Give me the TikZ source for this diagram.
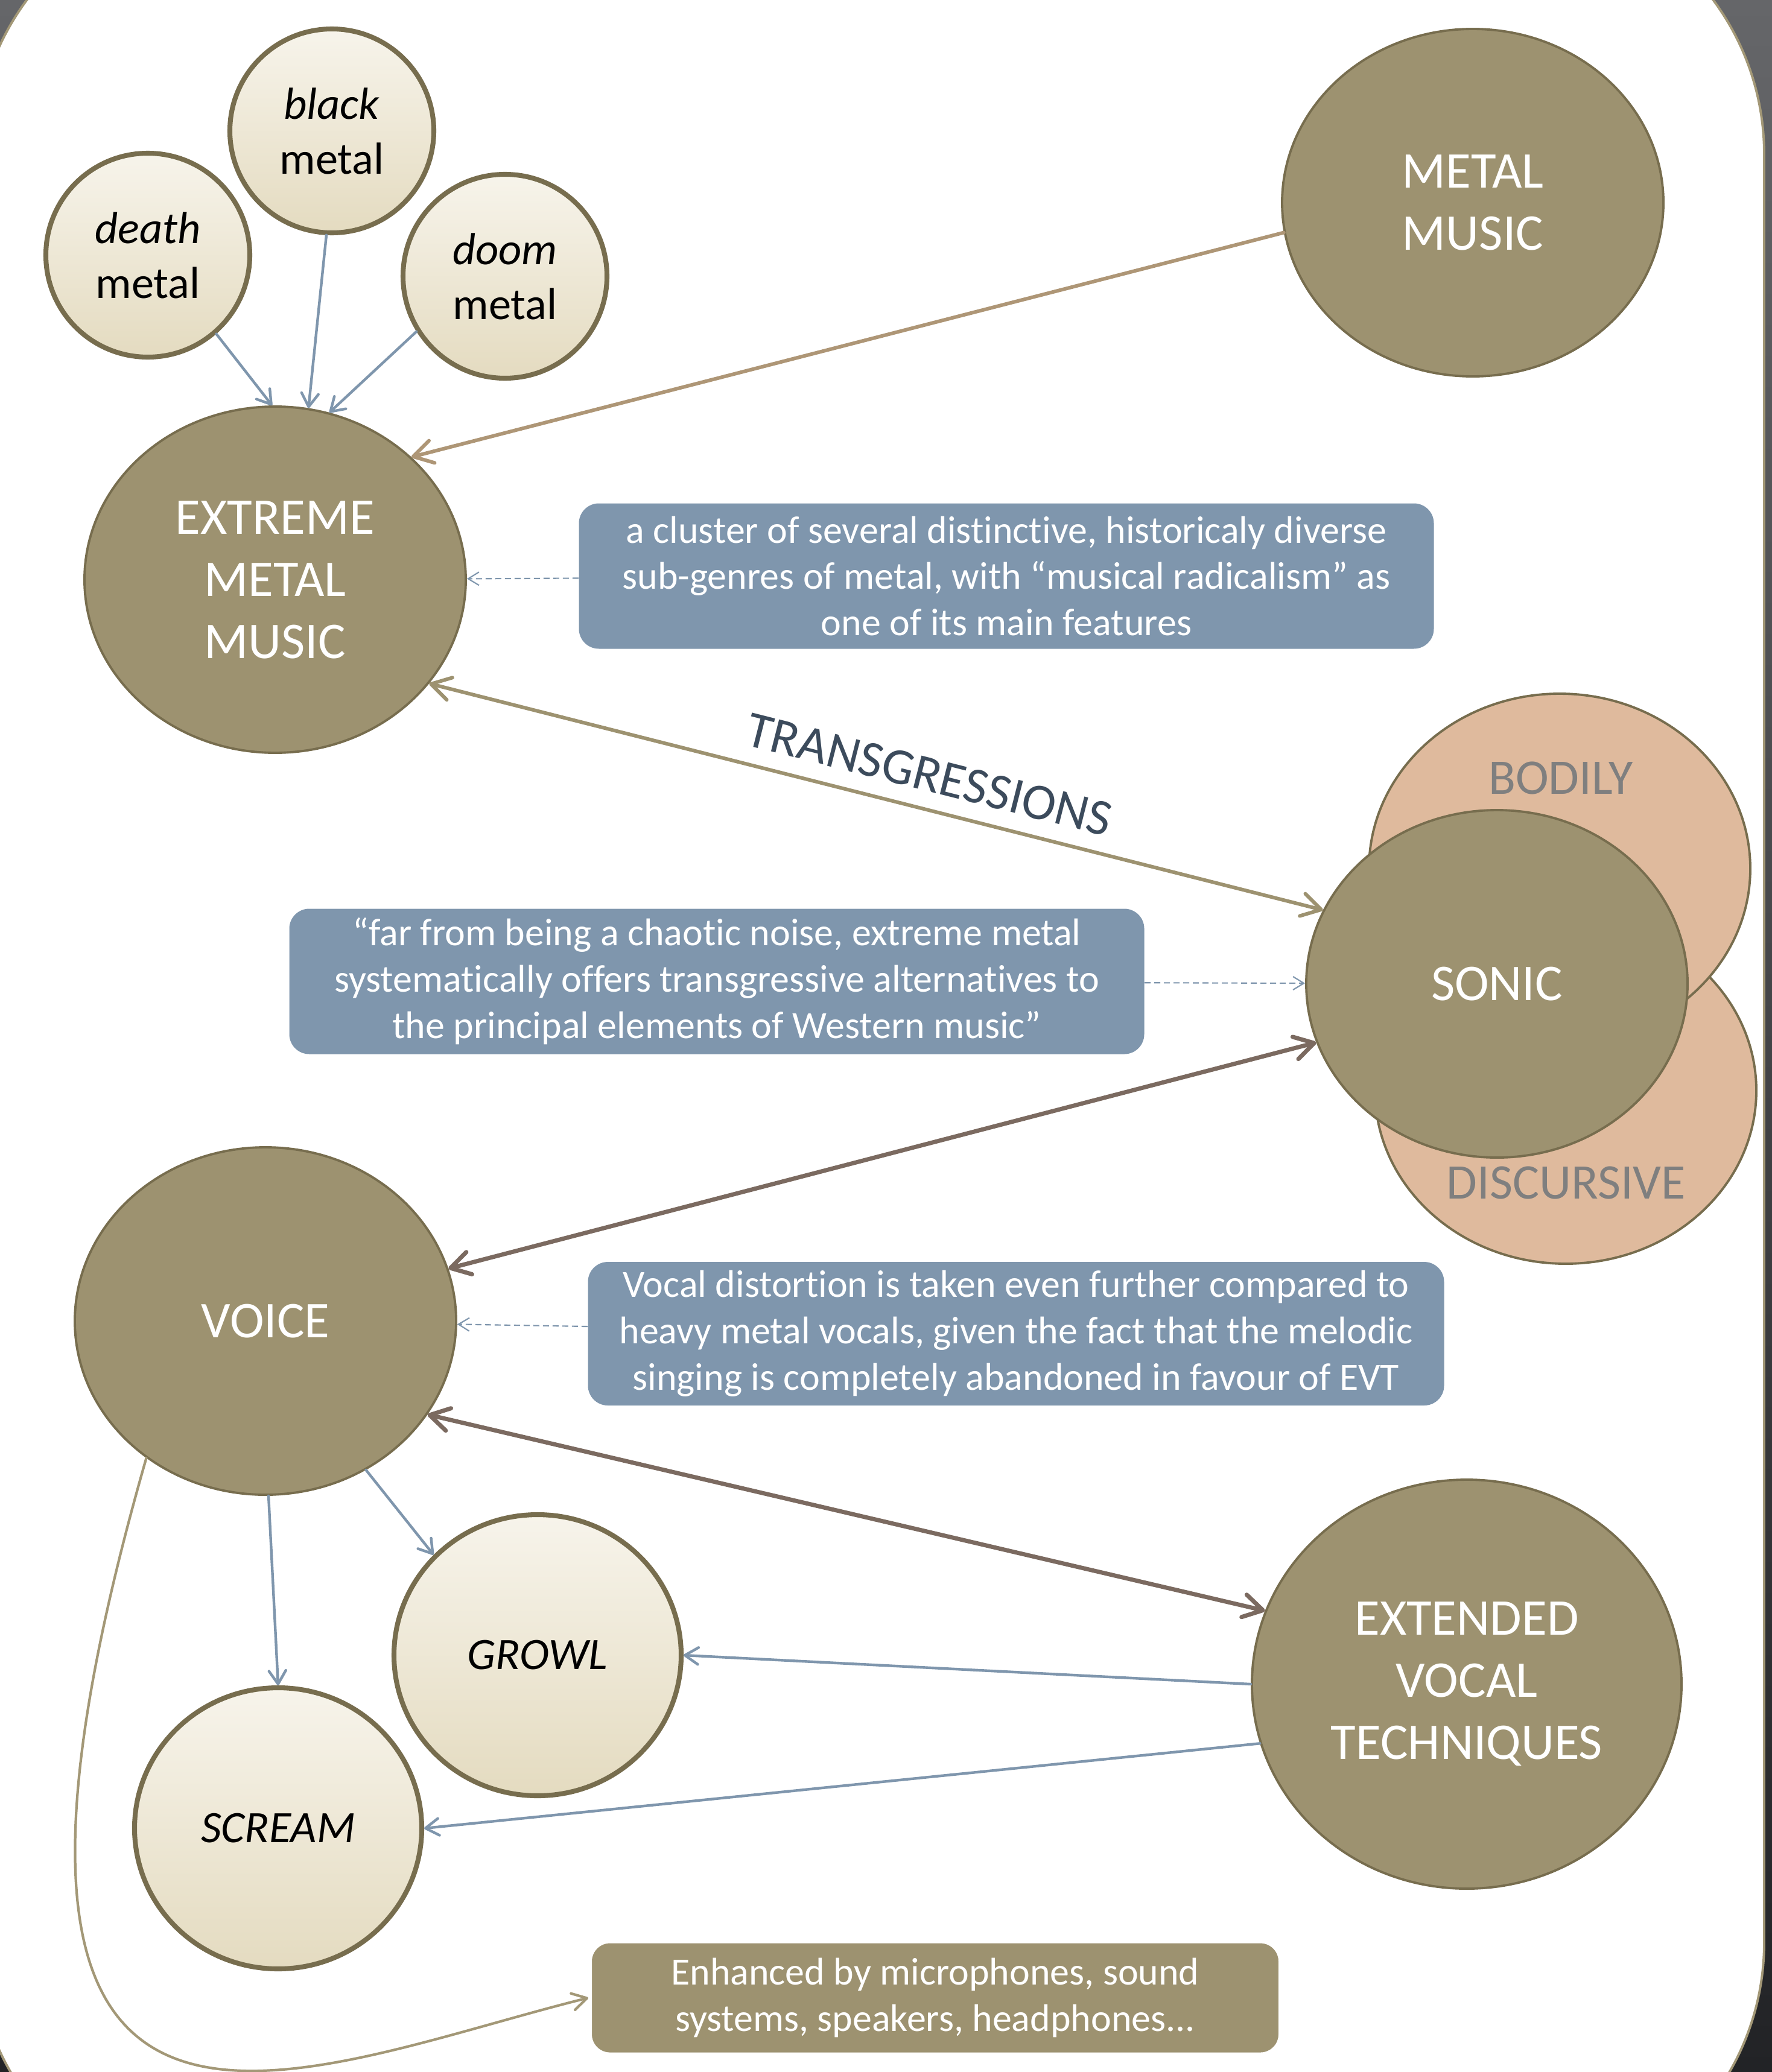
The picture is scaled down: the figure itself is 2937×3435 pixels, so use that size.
\documentclass[tikz,border=0pt]{standalone}
\usepackage{fontspec}
\setmainfont{Carlito}[Ligatures=NoCommon]
\usetikzlibrary{arrows.meta,shapes.geometric}

\definecolor{khaki}{HTML}{9D9270}
\definecolor{khakiline}{HTML}{776D4E}
\definecolor{creamtop}{HTML}{F7F4EB}
\definecolor{creambot}{HTML}{E4DBC0}
\definecolor{salmon}{HTML}{DFBA9D}
\definecolor{sidegray}{HTML}{7F7F7F}
\definecolor{noteblue}{HTML}{7F96AD}
\definecolor{arrowbrown}{HTML}{7B6A60}
\definecolor{arrowtan}{HTML}{AE9676}
\definecolor{transblue}{HTML}{3C4B5C}
\definecolor{bgtop}{HTML}{656669}
\definecolor{bgbot}{HTML}{222326}
\definecolor{framekhaki}{HTML}{A39877}

\newcommand{\ovalfont}{\fontsize{24.3}{29.3}\selectfont}
\newcommand{\sidefont}{\fontsize{23.5}{28}\selectfont}
\newcommand{\genrefont}{\fontsize{21.2}{25.9}\selectfont}
\newcommand{\notefont}{\fontsize{18.2}{21.9}\selectfont}
\newcommand{\transfont}{\fontsize{24.2}{28}\selectfont}

\tikzset{
  bigoval/.style={ellipse, draw=khakiline, fill=khaki, line width=1.1pt,
    inner sep=0pt, minimum width=63.2mm, minimum height=57.6mm,
    align=center, text=white, font=\ovalfont},
  sideoval/.style={bigoval, fill=salmon},
  sidetext/.style={text=sidegray, font=\sidefont, inner sep=0pt},
  genre/.style={circle, draw=khakiline, line width=2.3pt, top color=creamtop,
    bottom color=creambot, minimum size=33.8mm, inner sep=0pt, align=center,
    font=\genrefont},
  vocal/.style={genre, ellipse, minimum width=47.6mm, minimum height=46.6mm,
    font=\genrefont\itshape},
  note/.style={rectangle, rounded corners=3.3mm, fill=noteblue, text=white,
    minimum width=141.7mm, minimum height=24.1mm, align=center, font=\notefont},
  enhbox/.style={note, fill=khaki, draw=white, line width=1.7pt,
    minimum width=114.4mm, minimum height=18.7mm},
  subarrow/.style={->, >={Straight Barb[length=2.2mm,width=2.8mm,round]},
    draw=noteblue, line width=1.25pt, line cap=round},
  notearrow/.style={->, >={Straight Barb[length=1.8mm,width=2.2mm]},
    draw=noteblue, line width=0.6pt, dash pattern=on 1mm off 0.6mm},
  linkarrow/.style={<->, >={Straight Barb[length=3.2mm,width=3.8mm,round]},
    draw=arrowbrown, line width=2pt, line cap=round},
  bondarrow/.style={linkarrow, draw=khaki, line width=1.7pt},
  metalarrow/.style={linkarrow, -{Straight Barb[length=3.2mm,width=3.8mm,round]},
    draw=arrowtan, line width=1.7pt},
  curvearrow/.style={->, >={Straight Barb[length=2.4mm,width=2.8mm,round]},
    draw=framekhaki, line width=1.2pt, line cap=round},
  transtext/.style={sloped, pos=0.55, above=5.5pt, inner sep=2pt,
    text=transblue, font=\transfont}
}

\begin{document}
\begin{tikzpicture}[x=0.1mm, y=-0.1mm]

  \useasboundingbox (0,0) rectangle (2937,3435);
  \shade[top color=bgtop, bottom color=bgbot] (0,0) rectangle (2937,3435);
  \draw[fill=white, draw=framekhaki, line width=1.1pt, rounded corners=43mm]
    (-40,-174) rectangle (2924,3650);

  % genres
  \node[bigoval] (metal) at (2441,336) {METAL\\MUSIC};
  \node[bigoval, minimum height=57.4mm] (emm) at (456,961) {EXTREME\\METAL\\MUSIC};
  \node[genre] (death) at (245,423) {\textit{death}\\metal};
  \node[genre] (black) at (550,217) {\textit{black}\\metal};
  \node[genre] (doom) at (837,458) {\textit{doom}\\metal};
  \node[note] (cluster) at (1668,955)
    {a cluster of several distinctive, historicaly diverse\\
     sub-genres of metal, with “musical radicalism” as\\
     one of its main features};

  % transgressions
  \node[sideoval, minimum height=57.4mm] (discursive) at (2595,1808) {};
  \node[sideoval, minimum height=58mm] (bodily) at (2585,1440) {};
  \node[bigoval] (sonic) at (2481,1631) {SONIC};
  \node[sidetext] (bodilytxt) at (2587,1290) {BODILY};
  \node[sidetext] (discursivetxt) at (2596,1961) {DISCURSIVE};
  \node[note] (alternatives) at (1188,1627)
    {“far from being a chaotic noise, extreme metal\\
     systematically offers transgressive alternatives to\\
     the principal elements of Western music”};

  % voice
  \node[bigoval] (voice) at (440,2190) {VOICE};
  \node[note, minimum width=141.9mm, minimum height=23.8mm] (distortion) at (1684,2211)
    {Vocal distortion is taken even further compared to\\
     heavy metal vocals, given the fact that the melodic\\
     singing is completely abandoned in favour of EVT};
  \node[bigoval, minimum width=71.2mm, minimum height=67.8mm] (evt) at (2431,2792)
    {EXTENDED\\VOCAL\\TECHNIQUES};
  \node[vocal] (growl) at (891,2744) {GROWL};
  \node[vocal] (scream) at (461,3031) {SCREAM};
  \node[enhbox] (enh) at (1550,3312)
    {Enhanced by microphones, sound\\systems, speakers, headphones...};

  \draw[subarrow] (death.-49) -- (emm.91);
  \draw[subarrow] (black.-93) -- (emm.79);
  \draw[subarrow] (doom.212) -- (emm.72);
  \draw[metalarrow] (metal.189) -- (emm.42);
  \draw[notearrow] (cluster) -- (emm);

  \draw[bondarrow] (emm.-34) -- node[transtext] {TRANSGRESSIONS} (sonic.157);
  \draw[notearrow] (alternatives) -- (sonic);

  \draw[linkarrow] (sonic.198) -- (voice.16);
  \draw[notearrow] (distortion) -- (voice);
  \draw[linkarrow] (voice.-30) -- (evt.160);
  \draw[subarrow] (voice.-89) -- (scream.north);
  \draw[subarrow] (voice.-56) -- (growl.136);
  \draw[subarrow] (evt.180) -- (growl.east);
  \draw[subarrow] (evt.196) -- (scream.east);
  \draw[curvearrow] (voice.229) .. controls +(254:138mm) and +(194:51mm) .. (enh.west);

\end{tikzpicture}
\end{document}
